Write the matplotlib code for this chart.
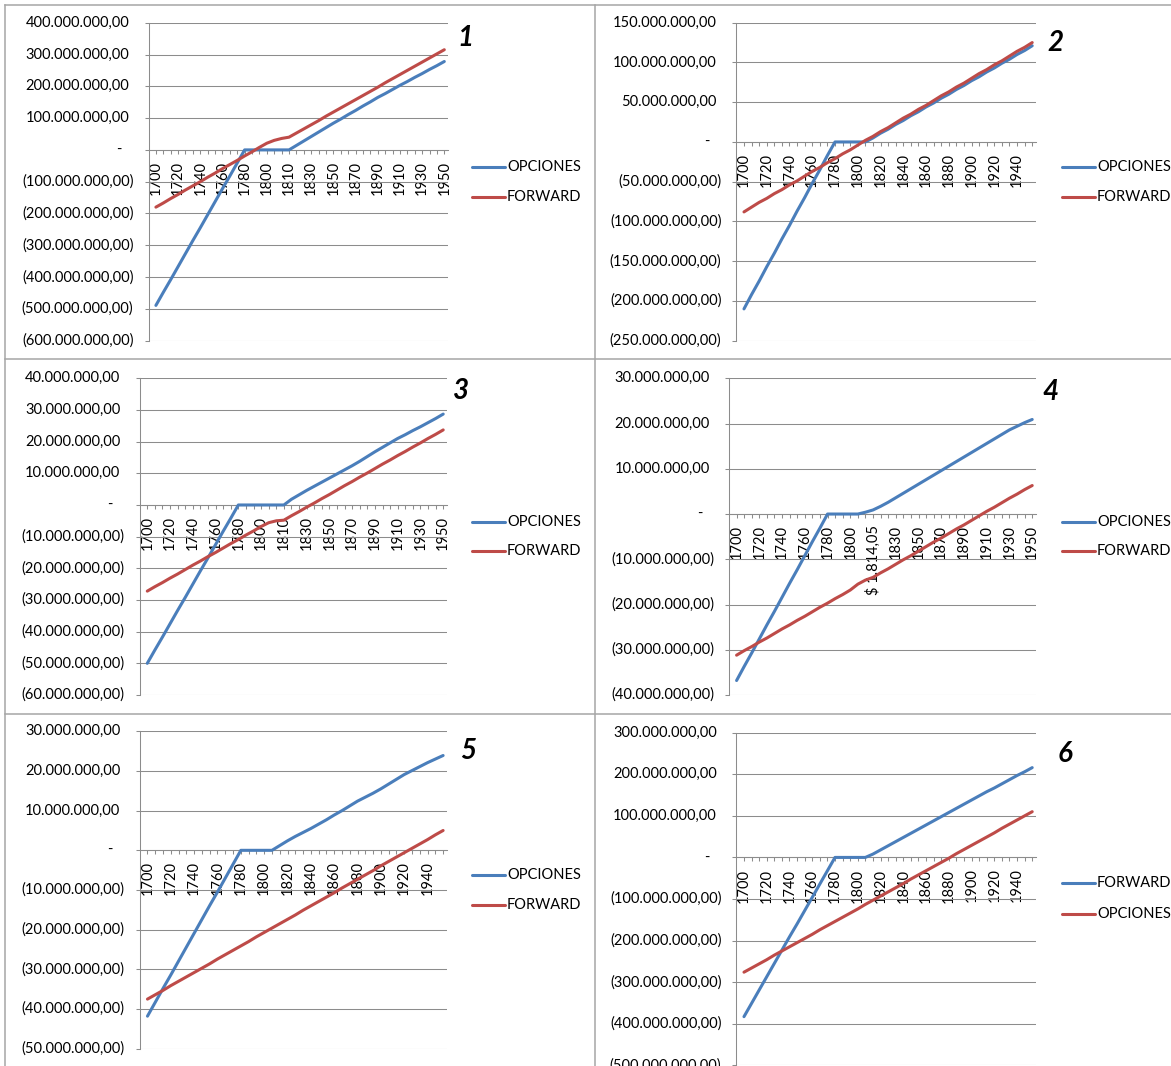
import matplotlib
matplotlib.use("Agg")
import matplotlib.pyplot as plt
from matplotlib.lines import Line2D
from matplotlib import transforms

plt.rcParams["font.family"] = ["Lato", "DejaVu Sans"]

# category labels shown on the x axis (one every third category)
labels_long = ["1700", "1720", "1740", "1760", "1780", "1800", "1810",
               "1830", "1850", "1870", "1890", "1910", "1930", "1950"]
labels_strike = ["1700", "1720", "1740", "1760", "1780", "1800", "$ 1.814,05",
                 "1830", "1850", "1870", "1890", "1910", "1930", "1950"]
labels_short = ["1700", "1720", "1740", "1760", "1780", "1800", "1820",
                "1840", "1860", "1880", "1900", "1920", "1940"]

# results per scenario, in millions
p1_opciones = [-489, -448, -408, -367, -326, -285, -245, -204, -163, -122, -82, -41,
               0, 0, 0, 0, 0, 0, 0,
               14, 28, 42, 56, 70, 84, 97, 111, 124, 138, 151, 165, 177, 190, 203,
               215, 228, 240, 253, 265, 278]
p1_forward = [-180, -167, -153, -140, -126, -113, -100, -86, -73, -59, -46, -33, -19,
              -6, 8, 21, 30, 36, 40, 53, 66, 79, 92, 106, 119, 132, 145, 158, 171,
              184, 197, 211, 224, 237, 250, 263, 276, 289, 302, 315]

p2_opciones = [-210, -192, -175, -157, -140, -122, -105, -87, -70, -52, -35, -17,
               0, 0, 0, 0, 0,
               5, 11, 16, 22, 27, 33, 38, 44, 49, 55, 60, 66, 71, 77, 82, 88, 93,
               99, 104, 110, 115, 121]
p2_forward = [-88, -82, -76, -71, -65, -60, -54, -49, -43, -37, -32, -26, -21, -15,
              -10, -4, 2, 7, 13, 18, 24, 30, 35, 41, 46, 52, 58, 63, 69, 74, 80, 86,
              91, 97, 102, 108, 114, 119, 125]

p3_opciones = [-50, -45.8, -41.7, -37.5, -33.3, -29.2, -25, -20.8, -16.7, -12.5, -8.3,
               -4.2, 0, 0, 0, 0, 0, 0, 0,
               1.8, 3.2, 4.6, 5.9, 7.2, 8.5, 9.8, 11.1, 12.4, 13.8, 15.3, 16.8, 18.2,
               19.6, 21.0, 22.2, 23.5, 24.7, 26.0, 27.3, 28.7]
p3_forward = [-27.2, -25.8, -24.5, -23.1, -21.8, -20.4, -19.0, -17.7, -16.3, -15.0,
              -13.6, -12.2, -10.9, -9.5, -8.2, -6.8, -5.6, -5.0, -4.8, -3.4, -2.1,
              -0.7, 0.6, 2.0, 3.3, 4.7, 6.1, 7.4, 8.8, 10.1, 11.5, 12.9, 14.2, 15.6,
              16.9, 18.3, 19.6, 21.0, 22.3, 23.7]

p4_opciones = [-36.8, -33.7, -30.7, -27.6, -24.5, -21.5, -18.4, -15.3, -12.3, -9.2,
               -6.1, -3.1, 0, 0, 0, 0, 0,
               0.4, 0.9, 1.7, 2.6, 3.6, 4.6, 5.6, 6.6, 7.6, 8.6, 9.6, 10.6, 11.6,
               12.6, 13.6, 14.6, 15.6, 16.6, 17.6, 18.6, 19.4, 20.2, 20.9]
p4_forward = [-31.2, -30.2, -29.3, -28.3, -27.4, -26.4, -25.4, -24.5, -23.5, -22.6,
              -21.6, -20.6, -19.7, -18.7, -17.8, -16.8, -15.5, -14.6, -14.0, -13.0,
              -12.1, -11.1, -10.1, -9.2, -8.2, -7.2, -6.2, -5.3, -4.3, -3.3, -2.4,
              -1.4, -0.4, 0.6, 1.5, 2.5, 3.5, 4.4, 5.4, 6.3]

p5_opciones = [-41.8, -38.3, -34.8, -31.4, -27.9, -24.4, -20.9, -17.4, -13.9, -10.5,
               -7.0, -3.5, 0, 0, 0, 0, 0,
               1.2, 2.4, 3.5, 4.5, 5.5, 6.6, 7.7, 8.9, 10.0, 11.2, 12.4, 13.4, 14.4,
               15.5, 16.7, 17.9, 19.1, 20.1, 21.1, 22.1, 23.0, 23.9]
p5_forward = [-37.5, -36.4, -35.3, -34.1, -33.0, -31.9, -30.8, -29.7, -28.6, -27.4,
              -26.3, -25.2, -24.1, -23.0, -21.8, -20.7, -19.6, -18.5, -17.4, -16.3,
              -15.1, -14.0, -12.9, -11.8, -10.7, -9.5, -8.4, -7.3, -6.2, -5.1, -3.9,
              -2.8, -1.7, -0.6, 0.5, 1.6, 2.7, 3.9, 5.0]

p6_forward = [-383, -351, -319, -287, -255, -223, -191, -160, -128, -96, -64, -32,
              0, 0, 0, 0, 0,
              8, 18, 28, 38, 48, 58, 68, 78, 88, 98, 108, 118, 128, 138, 148, 158,
              167, 177, 187, 197, 206, 216]
p6_opciones = [-276, -266, -256, -246, -235, -225, -215, -205, -195, -185, -174, -164,
               -154, -144, -134, -124, -113, -103, -93, -83, -73, -63, -52, -42, -32,
               -22, -12, -2, 9, 19, 29, 39, 49, 59, 70, 80, 90, 100, 110]

BLUE = "#4A7EBB"
RED = "#BE4B48"
GRID = "#8C8C8C"
FS = 10.5
LW = 2.2

W, H = 1171, 1066
fig = plt.figure(figsize=(W / 100, H / 100), dpi=100)
fig.patch.set_facecolor("white")

# (number, plot box in px, y range, y step, labels, series, number pos, legend)
panels = [
    ("1", (148.5, 22.7, 448, 340.7), (-600, 400), 100, labels_long,
     [("OPCIONES", p1_opciones, BLUE), ("FORWARD", p1_forward, RED)],
     (465, 38), (472, 505, 167, 197)),
    ("2", (736.4, 22.7, 1036, 340.7), (-250, 150), 50, labels_short,
     [("OPCIONES", p2_opciones, BLUE), ("FORWARD", p2_forward, RED)],
     (1055, 43), (1062, 1095, 167, 197)),
    ("3", (139.7, 378.3, 447, 695), (-60, 40), 10, labels_long,
     [("OPCIONES", p3_opciones, BLUE), ("FORWARD", p3_forward, RED)],
     (461, 391), (472, 505, 522, 551)),
    ("4", (729, 378.3, 1036, 695), (-40, 30), 10, labels_strike,
     [("OPCIONES", p4_opciones, BLUE), ("FORWARD", p4_forward, RED)],
     (1050, 392), (1062, 1095, 522, 551)),
    ("5", (139.7, 731.3, 447, 1048.7), (-50, 30), 10, labels_short,
     [("OPCIONES", p5_opciones, BLUE), ("FORWARD", p5_forward, RED)],
     (468, 751), (472, 505, 875, 905)),
    ("6", (736.4, 732.7, 1036, 1065.3), (-500, 300), 100, labels_short,
     [("FORWARD", p6_forward, BLUE), ("OPCIONES", p6_opciones, RED)],
     (1065, 754), (1062, 1095, 883, 914)),
]


def money(v):
    if v == 0:
        return "-"
    s = f"{int(round(abs(v) * 1e6)):,}".replace(",", ".") + ",00"
    return f"({s})" if v < 0 else s


def fx(x):
    return x / W


def fy(y):
    return 1 - y / H


for num, (l, t, r, b), (ymin, ymax), step, xlabels, series, numpos, leg in panels:
    ax = fig.add_axes([fx(l), fy(b), (r - l) / W, (b - t) / H])
    n = len(series[0][1])
    for name, vals, color in series:
        assert len(vals) == n
        ax.plot(range(n), vals, color=color, lw=LW,
                solid_joinstyle="round", solid_capstyle="round", zorder=3)

    # category axis crosses at zero; set before the ticks so they are kept
    for side in ("top", "right"):
        ax.spines[side].set_visible(False)
    ax.spines["bottom"].set_position(("data", 0))
    for side in ("left", "bottom"):
        ax.spines[side].set_color(GRID)
        ax.spines[side].set_linewidth(0.75)

    ax.set_xlim(-1, n - 0.5)
    ax.set_ylim(ymin, ymax)
    yt = list(range(ymin, ymax + 1, step))
    ax.set_yticks(yt)
    ax.yaxis.grid(True, color=GRID, lw=0.75)
    ax.set_axisbelow(True)
    ax.tick_params(axis="y", direction="out", length=3, width=0.75,
                   color=GRID, labelleft=False)

    ticklabels = [""] * n
    for i, lab in enumerate(xlabels):
        ticklabels[i * 3] = lab
    ax.set_xticks(range(n))
    ax.set_xticklabels(ticklabels, fontsize=FS)
    ax.tick_params(axis="x", direction="out", length=3, width=0.75,
                   color=GRID, pad=5, labelrotation=90)

    # accounting style value labels on the y axis
    base = transforms.blended_transform_factory(ax.transAxes, ax.transData)
    for v in yt:
        if v < 0:
            dx = 15
        elif v > 0:
            dx = 19.4
        else:
            dx = 27
        tr = transforms.offset_copy(base, fig=fig, x=-dx, y=0, units="dots")
        ax.text(0, v, money(v), transform=tr, ha="right", va="center",
                fontsize=FS, color="black", clip_on=False)

    fig.text(fx(numpos[0]), fy(numpos[1]), num, fontsize=20, fontweight="bold",
             style="italic", ha="center", va="center")

    x0, x1, y1, y2 = leg
    for (name, vals, color), yy in zip(series, (y1, y2)):
        fig.add_artist(Line2D([fx(x0), fx(x1)], [fy(yy), fy(yy)], color=color,
                              lw=LW, solid_capstyle="round"))
        fig.text(fx(x1 + 2), fy(yy), name, fontsize=FS, ha="left", va="center")

# cell borders
BORDER = "#A6A6A6"
for xs, ys in [((5, W), (5, 5)), ((5, 5), (5, H)), ((594.5, 594.5), (5, H)),
               ((5, W), (359, 359)), ((5, W), (713.5, 713.5))]:
    fig.add_artist(Line2D([fx(xs[0]), fx(xs[1])], [fy(ys[0]), fy(ys[1])],
                          color=BORDER, lw=1.1))

fig.savefig("out.png", dpi=100)
